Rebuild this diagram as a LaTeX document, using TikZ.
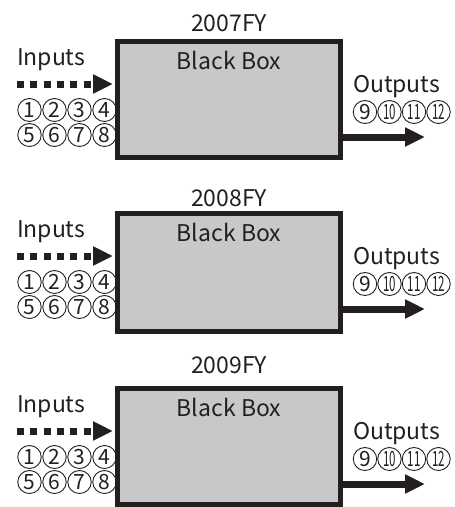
\documentclass[tikz,border=0pt]{standalone}
\usepackage{fontspec}
\setmainfont{Noto Sans CJK JP}
\usetikzlibrary{arrows.meta,shapes.geometric}
\definecolor{ink}{HTML}{231F20}
\definecolor{boxgray}{HTML}{C7C8CA}

\tikzset{
  txt/.style={inner sep=0pt, outer sep=0pt, text=ink, font=\fontsize{23}{27}\selectfont},
  cnum/.style={ellipse, draw=ink, line width=0.9pt, inner sep=0pt,
    minimum width=23.5pt, minimum height=23pt, text=ink,
    font=\fontsize{21}{22}\selectfont},
  bbox/.style={draw=ink, fill=boxgray, line width=5pt, outer sep=2.5pt,
    minimum width=223pt, inner sep=0pt, anchor=north west},
  inarrow/.style={draw=ink, line width=7pt, dash pattern=on 7pt off 6.3pt,
    -{Triangle[length=20pt, width=18pt]}, shorten >=2pt},
  outarrow/.style={draw=ink, line width=7pt, -{Triangle[length=20pt, width=18pt]}},
}
% two-digit numbers are squeezed to fit inside their circle
\newcommand\twodig[1]{\scalebox{0.55}[1]{#1}}

% One fiscal-year panel:
% #1 id, #2 year, #3 vertical offset, #4 extra box height, #5 title offset
\newcommand\fypanel[5]{%
  \begin{scope}[shift={(0,#3)}]
    \node[txt] (title#1) at (229,{23+#5}) {#2FY};
    \node[bbox, minimum height={116pt+#4pt}] (box#1) at (115,39) {};
    \node[txt] (bb#1) at (229,60) {Black Box};
    \node[txt, anchor=base west] (in#1) at (17,65) {Inputs};
    \coordinate (ia#1) at (17,84);
    \draw[inarrow] (ia#1) -- (ia#1 -| box#1.west);
    \foreach \d [count=\k from 0] in {1,2,3,4}
      \node[cnum] (n#1-\d) at ({29.5+25*\k},110) {\d};
    \foreach \d [count=\k from 0] in {5,6,7,8}
      \node[cnum] (n#1-\d) at ({29.5+25*\k},135) {\d};
    \node[txt, anchor=base west] (out#1) at (353,92) {Outputs};
    \node[cnum] (n#1-9) at (365,112) {9};
    \foreach \d [count=\k from 1] in {10,11,12}
      \node[cnum] (n#1-\d) at ({365+24.5*\k},112) {\twodig{\d}};
    \coordinate (oa#1) at (425,137);
    \draw[outarrow] (oa#1 -| box#1.east) -- (oa#1);
  \end{scope}}

\begin{document}
\begin{tikzpicture}[x=1pt, y=-1pt]
  \useasboundingbox (0,0) rectangle (455,507);
  \fypanel{1}{2007}{0}{0}{0}
  \fypanel{2}{2008}{172}{2}{3}
  \fypanel{3}{2009}{347}{0}{-5}
\end{tikzpicture}
\end{document}
